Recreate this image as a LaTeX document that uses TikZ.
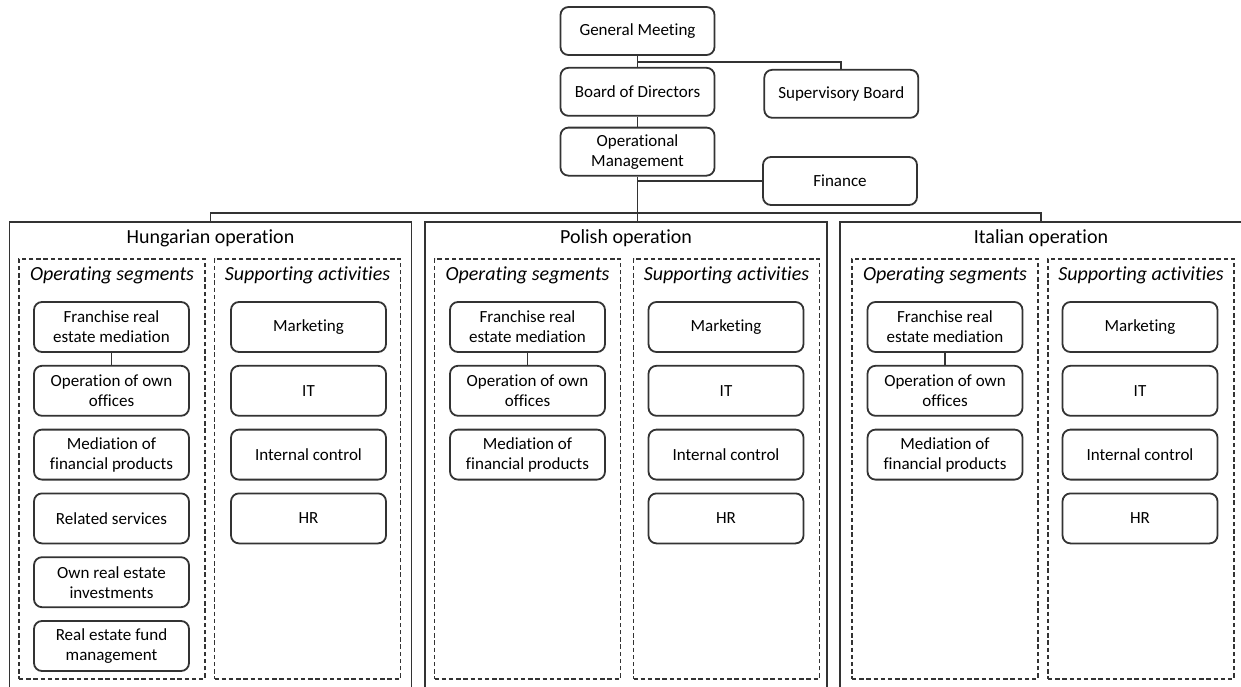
\documentclass[tikz,border=0pt]{standalone}
\usepackage{fontspec}
\setmainfont{Carlito}[Ligatures=NoCommon]
\usetikzlibrary{positioning}

\newcommand\boxfont{\fontsize{8.5}{10}\selectfont}
\newcommand\headfont{\fontsize{10}{12}\selectfont}

\begin{document}
\begin{tikzpicture}[
            x=0.5pt, y=-0.5pt,
            node distance=6pt and 24pt,
            org/.style={draw=black!80, line width=0.9pt, rounded corners=4pt,
                        minimum width=77pt, minimum height=24pt, align=center, font=\boxfont},
            seg/.style={draw=black!80, line width=0.9pt, rounded corners=4pt,
                        minimum width=77.5pt, minimum height=25pt, align=center, font=\boxfont},
            opbox/.style={draw=black!80, line width=0.9pt, anchor=north,
                          minimum width=201pt, minimum height=245pt},
            grp/.style={draw=black!80, line width=0.8pt, dash pattern=on 2.2pt off 1.4pt,
                        anchor=north, minimum width=93pt, minimum height=210pt},
            optitle/.style={font=\headfont},
            grptitle/.style={font=\headfont\itshape},
            conn/.style={draw=black!80, line width=0.9pt}]

            \useasboundingbox (0,0) rectangle (1241,686);
            \clip (0,0) rectangle (1241,686);

            % management on top
            \node[org] (gm) at (637.5,31) {General Meeting};
            \node[org, below=5.5pt of gm] (bod) {Board of Directors};
            \node[org, right=of bod, yshift=-1pt] (sb) {Supervisory Board};
            \node[org, below=5pt of bod] (om) {Operational\\Management};
            \node[org] (fin) at (840,181) {Finance};

            \draw[conn] (gm) -- (bod);
            \draw[conn] ([yshift=-3pt]gm.south) -| (sb.north);
            \draw[conn] (bod) -- (om);
            \draw[conn] (om.south |- fin.west) -- (fin.west);

            % the three operations
            \node[opbox] (hu) at (210.5,221) {};
            \node[opbox] (pl) at (626,221) {};
            \node[opbox] (it) at (1041,221) {};
            \node[optitle] (hutitle) at ([yshift=-8.5pt]hu.north) {Hungarian operation};
            \node[optitle] (pltitle) at ([yshift=-8.5pt]pl.north) {Polish operation};
            \node[optitle] (ittitle) at ([yshift=-8.5pt]it.north) {Italian operation};

            \draw[conn] (om.south) -- (om.south |- pl.north);
            \draw[conn] (hu.north) -- ++(0,-8) -| (it.north);

            % Hungarian operation
            \node[grp] (huops) at (112,258) {};
            \node[grp] (husup) at (307.5,258) {};
            \node[grptitle] at ([yshift=-8.5pt]huops.north) {Operating segments};
            \node[grptitle] at ([yshift=-8.5pt]husup.north) {Supporting activities};

            \node[seg] (hufran) at (111.5,327) {Franchise real\\estate mediation};
            \node[seg, below=of hufran] (huown)  {Operation of own\\offices};
            \node[seg, below=of huown]  (humed)  {Mediation of\\financial products};
            \node[seg, below=of humed]  (hurel)  {Related services};
            \node[seg, below=of hurel]  (huinv)  {Own real estate\\investments};
            \node[seg, below=of huinv]  (hufund) {Real estate fund\\management};
            \draw[conn] (hufran) -- (huown);

            \node[seg] (humkt) at (308.5,327) {Marketing};
            \node[seg, below=of humkt] (huit)  {IT};
            \node[seg, below=of huit]  (hucon) {Internal control};
            \node[seg, below=of hucon] (huhr)  {HR};

            % Polish operation
            \node[grp] (plops) at (527.5,258) {};
            \node[grp] (plsup) at (726.5,258) {};
            \node[grptitle] at ([yshift=-8.5pt]plops.north) {Operating segments};
            \node[grptitle] at ([yshift=-8.5pt]plsup.north) {Supporting activities};

            \node[seg] (plfran) at (527.5,327) {Franchise real\\estate mediation};
            \node[seg, below=of plfran] (plown) {Operation of own\\offices};
            \node[seg, below=of plown]  (plmed) {Mediation of\\financial products};
            \draw[conn] (plfran) -- (plown);

            \node[seg] (plmkt) at (726,327) {Marketing};
            \node[seg, below=of plmkt] (plit)  {IT};
            \node[seg, below=of plit]  (plcon) {Internal control};
            \node[seg, below=of plcon] (plhr)  {HR};

            % Italian operation
            \node[grp] (itops) at (945,258) {};
            \node[grp] (itsup) at (1141,258) {};
            \node[grptitle] at ([yshift=-8.5pt]itops.north) {Operating segments};
            \node[grptitle] at ([yshift=-8.5pt]itsup.north) {Supporting activities};

            \node[seg] (itfran) at (945,327) {Franchise real\\estate mediation};
            \node[seg, below=of itfran] (itown) {Operation of own\\offices};
            \node[seg, below=of itown]  (itmed) {Mediation of\\financial products};
            \draw[conn] (itfran) -- (itown);

            \node[seg] (itmkt) at (1140,327) {Marketing};
            \node[seg, below=of itmkt] (itit)  {IT};
            \node[seg, below=of itit]  (itcon) {Internal control};
            \node[seg, below=of itcon] (ithr)  {HR};
        \end{tikzpicture}
\end{document}
